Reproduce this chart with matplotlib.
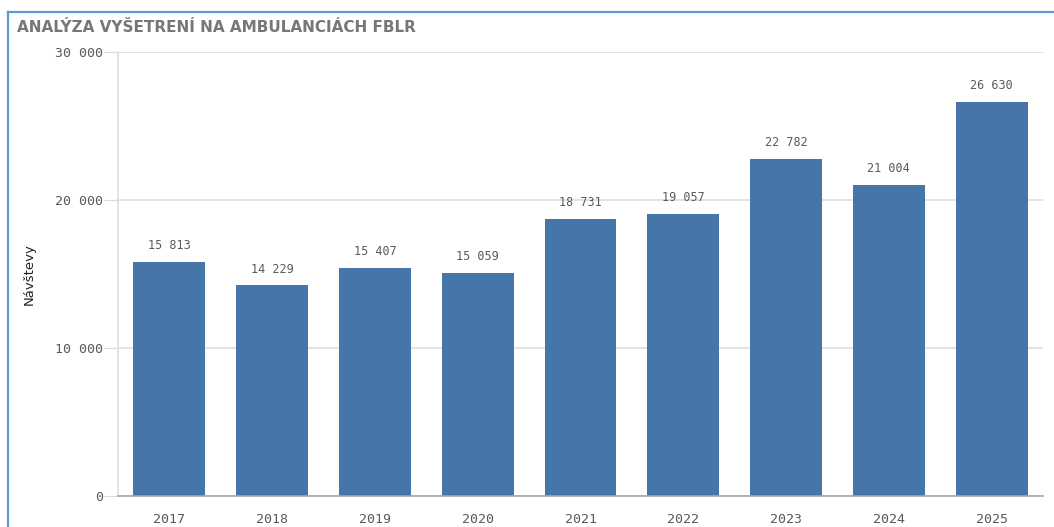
import matplotlib.pyplot as plt
from matplotlib.lines import Line2D

# data
roky = ['2017', '2018', '2019', '2020', '2021', '2022', '2023', '2024', '2025']
navstevy = [15813, 14229, 15407, 15059, 18731, 19057, 22782, 21004, 26630]
y_ticks = [0, 10000, 20000, 30000]


def fmt(v):
    return f'{v:,}'.replace(',', ' ')


W, H = 1054, 527
fig = plt.figure(figsize=(W / 100, H / 100), dpi=100)

# axes placed in pixel terms (left 118, right 1043, top 52, bottom 496)
ax = fig.add_axes([118 / W, 1 - 496 / H, (1043 - 118) / W, (496 - 52) / H])

bar_col = '#4676a8'
grey_txt = '#595959'
mono = 'DejaVu Sans Mono'

x = range(len(roky))
ax.bar(x, navstevy, width=0.7, color=bar_col, zorder=3)
for i, v in zip(x, navstevy):
    ax.annotate(fmt(v), (i, v), xytext=(0, 7), textcoords='offset points',
                ha='center', va='bottom', fontsize=8.5, family=mono, color=grey_txt)

ax.set_xlim(-0.5, len(roky) - 0.5)
ax.set_ylim(0, 30000)
ax.set_yticks(y_ticks)
ax.set_yticklabels([fmt(t) for t in y_ticks], family=mono, fontsize=9.5, color=grey_txt)
ax.set_xticks(list(x))
ax.set_xticklabels(roky, family=mono, fontsize=9.5, color=grey_txt)
ax.tick_params(axis='y', length=10, color='#d9d9d9', pad=1)
ax.tick_params(axis='x', length=0, pad=12)

ax.grid(axis='y', color='#dedede', linewidth=1.2, zorder=0)
for s in ['top', 'right']:
    ax.spines[s].set_visible(False)
ax.spines['left'].set_color('#dedede')
ax.spines['left'].set_linewidth(1.2)
ax.spines['bottom'].set_color('#a6a6a6')
ax.spines['bottom'].set_linewidth(1.2)
ax.spines['bottom'].set_zorder(4)

ax.set_ylabel('Návštevy', fontsize=9.5, color='#222222')
ax.yaxis.set_label_coords(-82 / (1043 - 118), 0.5)

# title and frame
fig.text(17 / W, 1 - 27 / H, 'ANALÝZA VYŠETRENÍ NA AMBULANCIÁCH FBLR',
         fontsize=11, fontweight='bold', color='#777777', family='DejaVu Sans',
         va='center', ha='left')
frame = '#5b9bd5'
fig.add_artist(Line2D([8 / W, 1], [1 - 12 / H, 1 - 12 / H], color=frame, lw=1.6))
fig.add_artist(Line2D([8 / W, 8 / W], [0, 1 - 12 / H], color=frame, lw=1.6))

fig.savefig('out.png', dpi=100)
